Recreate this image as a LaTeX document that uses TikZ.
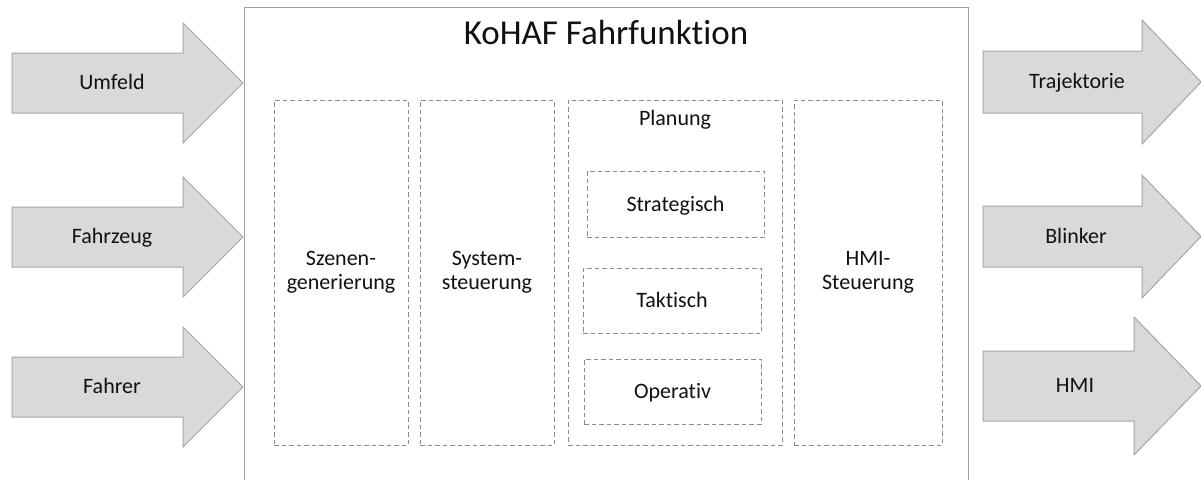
\documentclass[tikz,border=0pt]{standalone}
\usepackage{fontspec}
\setmainfont[Ligatures={NoCommon}]{Carlito}
\definecolor{arrfill}{HTML}{D9D9D9}
\definecolor{arrline}{HTML}{A6A6A6}
\definecolor{boxline}{HTML}{A0A0A0}
\definecolor{dashline}{HTML}{8C8C8C}
\definecolor{txt}{HTML}{111111}
\tikzset{
  arrowshape/.style={fill=arrfill, draw=arrline, line width=1pt, line join=miter},
  frame/.style={draw=boxline, line width=1pt},
  dbox/.style={draw=dashline, line width=0.8pt, dash pattern=on 4.5pt off 3pt, inner sep=0pt, outer sep=0pt},
  lbl/.style={font=\fontsize{22}{24}\selectfont, text=txt, align=center, inner sep=0pt},
  titlelbl/.style={font=\fontsize{35}{40}\selectfont, text=txt, inner sep=0pt},
}
\begin{document}
\begin{tikzpicture}[x=1pt,y=-1pt]
\useasboundingbox (0,0) rectangle (1201,479);
\clip (0,0) rectangle (1201,479);
\fill[white] (0,0) rectangle (1201,479);

% main frame
\draw[frame] (244,7) rectangle (968,495);
\node[titlelbl, anchor=base] (title) at (606,44) {KoHAF Fahrfunktion};

% input arrows
\foreach \c/\t/\n in {83/Umfeld/umfeld, 237/Fahrzeug/fahrzeug, 387/Fahrer/fahrer}{
  \draw[arrowshape] (12,\c-30) -- (183,\c-30) -- (183,\c-60) -- (243,\c)
     -- (183,\c+60) -- (183,\c+30) -- (12,\c+30) -- cycle;
  \node[lbl, anchor=base] (\n) at (112,\c+6.5) {\t};
}

% output arrows
\draw[arrowshape] (983,51) -- (1142,51) -- (1142,20) -- (1201,82)
   -- (1142,144) -- (1142,113) -- (983,113) -- cycle;
\node[lbl, anchor=base] (trajektorie) at (1077,88.5) {Trajektorie};
\draw[arrowshape] (983,206) -- (1142,206) -- (1142,175) -- (1201,236.5)
   -- (1142,298) -- (1142,267) -- (983,267) -- cycle;
\node[lbl, anchor=base] (blinker) at (1076,243) {Blinker};
\draw[arrowshape] (983,351) -- (1134,351) -- (1134,317) -- (1201,386)
   -- (1134,455) -- (1134,421) -- (983,421) -- cycle;
\node[lbl, anchor=base] (hmi) at (1075,392.5) {HMI};

% dashed component boxes
\node[dbox, minimum width=134, minimum height=345] (szenbox) at (341,272.5) {};
\node[lbl] (szen) at (szenbox.center) {Szenen-\\generierung};
\node[dbox, minimum width=134, minimum height=345] (sysbox) at (487,272.5) {};
\node[lbl] (sys) at (sysbox.center) {System-\\steuerung};
\node[dbox, minimum width=214, minimum height=345] (planbox) at (675,272.5) {};
\node[lbl, anchor=base] (plan) at (675,125) {Planung};
\node[dbox, minimum width=148, minimum height=345] (hmibox) at (868,272.5) {};
\node[lbl] (hmist) at (hmibox.center) {HMI-\\Steuerung};

\node[dbox, minimum width=177, minimum height=66] (stratbox) at (675.5,204) {};
\node[lbl, anchor=base] (strat) at (675.5,211) {Strategisch};
\node[dbox, minimum width=178, minimum height=65] (taktbox) at (672,300.5) {};
\node[lbl, anchor=base] (takt) at (672,307) {Taktisch};
\node[dbox, minimum width=177, minimum height=65] (opbox) at (672.5,391.5) {};
\node[lbl, anchor=base] (op) at (672.5,398) {Operativ};
\end{tikzpicture}
\end{document}
